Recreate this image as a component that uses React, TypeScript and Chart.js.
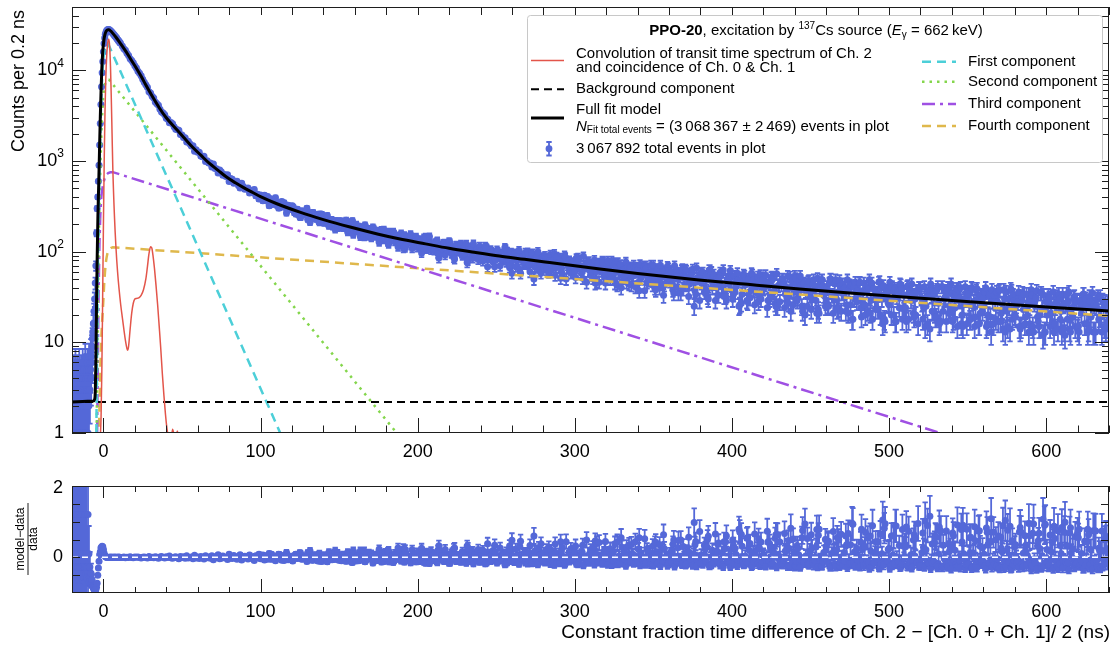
import React, { useEffect, useRef } from "react";
import { Chart, registerables } from "chart.js";

Chart.register(...registerables);

const FONT_FAMILY = '"Liberation Sans", Arial, Helvetica, sans-serif';

const BLUE = "#5468d8";
const RED = "#e3554a";
const CYAN = "#4ccfd8";
const GREEN = "#84d64c";
const PURPLE = "#9f50e3";
const YELLOW = "#dfb84c";
const AXIS = "#1e1e1e";

// ---------------- axes / tick labels ----------------
const X_RANGE = [-20, 640];
const Y_RANGE = [1, 50000];
const RES_RANGE = [-1, 2];
const X_MAJOR_TICKS = [0, 100, 200, 300, 400, 500, 600];
const X_MINOR_TICKS = [-20, 20, 40, 60, 80, 120, 140, 160, 180, 220, 240, 260, 280, 320, 340, 360, 380, 420, 440, 460, 480, 520, 540, 560, 580, 620, 640];
const Y_DECADE_TICKS = [1, 10, 100, 1000, 10000];
const RES_TICKS = [-0.5, 0, 0.5, 1, 1.5];
const RES_TICK_LABELS = [0, 2];

// ---------------- measured histogram (bin centres: start + step * i) ----------------
const BIN_START = [-19.8, -6.8, 12, 102, 101, 100.5];
const BIN_STEP = [0.2, 0.4, 1, 2, 2, 1];

const COUNTS_A = [
  2, 4, 1, 3, 5, 2, 1, 3, 4, 2,
  6, 1, 3, 2, 4, 1, 5, 3, 2, 1,
  4, 3, 6, 2, 1, 3, 4, 2, 5, 1,
  3, 2, 4, 6, 1, 3, 2, 5, 4, 1,
  3, 7, 2, 4, 1, 3, 5, 2, 6, 4,
  1, 3, 5, 2, 7, 4, 3, 6, 5, 8,
  4, 7, 9, 6, 11,
];
const COUNTS_B = [13, 16, 22, 30, 45, 70, 160, 300, 400, 600, 900, 1500, 2600, 4200, 6600, 9400, 12500, 16000, 19800, 22800, 25000, 26400, 27300, 27900, 28200, 28000, 28150, 27650, 27500, 26850, 26700, 26000, 25750, 25000, 24700, 23950, 23800, 23100, 22850, 22100, 21800, 21150, 20900, 20200, 20050];
const COUNTS_C = [18568, 17331, 16654, 15463, 14634, 13425, 12823, 12110, 11236, 10610, 9781, 9277, 8748, 7964, 7381, 6925, 6504, 5819, 5645, 5186, 4943, 4483, 4280, 4114, 3729, 3482, 3393, 3242, 2962, 2881, 2641, 2656, 2570, 2385, 2237, 2213, 2192, 1961, 1933, 1814, 1802, 1624, 1652, 1554, 1465, 1477, 1283, 1332, 1253, 1252, 1133, 1115, 1131, 990, 1008, 951, 952, 859, 930, 826, 821, 739, 796, 762, 696, 708, 677, 704, 594, 641, 631, 568, 580, 597, 538, 504, 570, 523, 487, 494, 503, 443, 474, 447, 485, 413, 429, 382, 421];
// tail, bins 102, 104, ... 638
const COUNTS_D_EVEN = [
  399, 363, 386, 346, 351, 305, 325, 327, 292, 321,
  282, 259, 281, 268, 228, 269, 238, 240, 261, 213,
  228, 215, 189, 219, 220, 188, 193, 173, 214, 187,
  171, 187, 145, 175, 160, 180, 147, 156, 135, 160,
  167, 137, 145, 127, 145, 110, 146, 129, 135, 111,
  134, 143, 111, 120, 112, 129, 96, 118, 109, 130,
  95, 110, 114, 96, 116, 80, 102, 95, 107, 86,
  101, 109, 90, 77, 97, 90, 81, 108, 81, 58,
  96, 82, 87, 73, 99, 84, 50, 86, 74, 87,
  63, 80, 87, 67, 74, 57, 87, 68, 76, 60,
  86, 63, 70, 76, 55, 72, 47, 66, 76, 58,
  55, 69, 76, 59, 47, 64, 68, 43, 59, 63,
  51, 69, 46, 59, 71, 51, 40, 60, 53, 62,
  44, 56, 35, 63, 52, 44, 57, 25, 52, 58,
  46, 37, 63, 49, 40, 52, 59, 32, 44, 53,
  36, 49, 27, 54, 28, 44, 49, 35, 55, 39,
  46, 30, 50, 25, 43, 50, 34, 27, 41, 54,
  31, 42, 45, 25, 37, 49, 21, 39, 42, 28,
  45, 33, 49, 24, 35, 40, 21, 42, 30, 37,
  24, 45, 37, 21, 39, 31, 47, 16, 34, 26,
  41, 17, 36, 39, 23, 42, 29, 19, 36, 40,
  24, 32, 14, 36, 19, 16, 41, 32, 21, 34,
  24, 38, 16, 30, 36, 18, 28, 39, 21, 31,
  15, 33, 29, 18, 37, 23, 13, 30, 37, 20,
  28, 15, 34, 24, 30, 13, 37, 20, 12, 28,
  31, 17, 25, 34, 13, 12, 28, 21, 32, 14,
  25, 34, 16, 28, 13, 25, 19, 29, 14,
];
// tail, bins 101, 103, ... 639
const COUNTS_D_ODD = [
  384, 410, 375, 330, 361, 335, 318, 346, 287, 307,
  306, 276, 242, 276, 265, 241, 269, 239, 217, 259,
  229, 204, 227, 202, 182, 217, 197, 188, 197, 155,
  200, 168, 176, 183, 147, 160, 169, 144, 175, 150,
  127, 152, 157, 135, 140, 109, 146, 138, 121, 146,
  123, 110, 146, 121, 110, 126, 95, 117, 125, 104,
  116, 86, 117, 106, 94, 121, 99, 85, 104, 100,
  84, 115, 88, 100, 68, 100, 89, 81, 101, 71,
  90, 96, 64, 86, 90, 72, 96, 76, 62, 83,
  90, 75, 63, 95, 75, 51, 79, 80, 65, 60,
  85, 71, 51, 72, 78, 59, 45, 74, 64, 52,
  79, 58, 68, 43, 72, 62, 46, 66, 54, 67,
  37, 60, 70, 48, 56, 40, 65, 58, 43, 69,
  50, 35, 59, 53, 39, 62, 44, 64, 34, 52,
  56, 39, 30, 60, 47, 41, 55, 32, 50, 62,
  34, 47, 26, 52, 50, 36, 56, 40, 28, 52,
  43, 29, 52, 37, 25, 47, 43, 31, 53, 26,
  44, 47, 22, 37, 48, 30, 41, 23, 49, 37,
  26, 50, 31, 23, 42, 39, 26, 43, 18, 36,
  45, 28, 20, 39, 45, 30, 23, 40, 18, 36,
  41, 20, 32, 44, 24, 17, 37, 33, 20, 40,
  27, 15, 37, 33, 21, 41, 17, 30, 37, 23,
  18, 39, 31, 15, 35, 26, 39, 19, 16, 32,
  36, 20, 13, 33, 28, 17, 38, 22, 14, 33,
  26, 15, 35, 19, 13, 33, 29, 17, 35, 13,
  29, 21, 13, 32, 18, 26, 34, 14, 19, 29,
  13, 26, 30, 14, 24, 13, 32, 19, 15, 27,
];
// tail, bins 100.5, 101.5, ... 639.5
const COUNTS_D_HALF = [
  400, 364, 418, 380, 406, 322, 362, 377, 343, 394,
  324, 303, 342, 357, 312, 311, 267, 325, 295, 306,
  315, 270, 261, 293, 281, 239, 281, 268, 255, 301,
  260, 211, 249, 270, 233, 228, 259, 210, 241, 247,
  207, 223, 251, 192, 226, 224, 202, 176, 220, 198,
  197, 218, 182, 194, 222, 164, 195, 180, 219, 171,
  182, 168, 190, 146, 175, 160, 197, 154, 179, 164,
  142, 186, 157, 147, 171, 127, 164, 154, 176, 137,
  147, 121, 155, 138, 167, 129, 151, 113, 143, 159,
  125, 152, 116, 137, 131, 156, 109, 142, 123, 134,
  137, 114, 97, 128, 133, 107, 123, 147, 104, 118,
  103, 118, 132, 85, 116, 108, 124, 92, 121, 111,
  126, 95, 109, 83, 118, 100, 105, 121, 91, 112,
  97, 76, 112, 106, 89, 122, 93, 102, 82, 115,
  103, 79, 92, 112, 68, 98, 105, 86, 94, 81,
  104, 91, 70, 96, 83, 111, 77, 89, 67, 98,
  80, 96, 68, 89, 103, 58, 86, 76, 98, 74,
  86, 60, 96, 77, 68, 88, 100, 75, 58, 84,
  67, 85, 76, 59, 93, 71, 81, 55, 88, 74,
  86, 61, 75, 91, 50, 71, 80, 58, 76, 66,
  52, 75, 81, 65, 59, 89, 69, 46, 77, 62,
  68, 51, 81, 60, 75, 46, 65, 79, 57, 45,
  72, 64, 50, 79, 55, 45, 68, 76, 60, 40,
  63, 51, 77, 57, 44, 67, 54, 71, 41, 61,
  46, 72, 54, 62, 37, 66, 50, 56, 71, 43,
  58, 38, 64, 50, 71, 44, 33, 61, 53, 66,
  47, 60, 38, 70, 54, 41, 57, 35, 65, 51,
  64, 43, 32, 53, 59, 46, 37, 66, 51, 29,
  45, 59, 36, 54, 32, 63, 48, 40, 56, 29,
  51, 33, 59, 41, 63, 37, 29, 48, 53, 38,
  30, 54, 41, 58, 25, 49, 34, 56, 43, 29,
  50, 31, 58, 38, 26, 46, 53, 34, 30, 49,
  40, 55, 24, 46, 32, 53, 36, 27, 57, 42,
  28, 43, 50, 24, 41, 54, 32, 22, 47, 36,
  51, 29, 36, 54, 25, 44, 20, 41, 47, 33,
  23, 44, 38, 29, 51, 21, 41, 49, 33, 25,
  41, 25, 50, 33, 21, 44, 30, 36, 48, 22,
  44, 31, 22, 49, 38, 26, 18, 41, 46, 28,
  33, 46, 19, 37, 26, 41, 22, 49, 29, 18,
  39, 23, 35, 46, 20, 30, 42, 17, 37, 27,
  46, 20, 30, 39, 17, 37, 24, 43, 18, 33,
  24, 41, 18, 34, 44, 21, 30, 37, 16, 40,
  31, 18, 41, 25, 16, 37, 44, 22, 34, 19,
  38, 27, 17, 41, 22, 31, 17, 40, 25, 44,
  17, 32, 36, 15, 29, 40, 20, 26, 41, 16,
  34, 18, 40, 25, 15, 37, 30, 16, 33, 22,
  25, 40, 16, 32, 19, 38, 16, 28, 36, 17,
  38, 21, 14, 30, 36, 15, 25, 39, 18, 29,
  19, 30, 36, 14, 32, 23, 16, 34, 26, 16,
  38, 15, 27, 31, 19, 15, 35, 24, 33, 13,
  20, 33, 15, 26, 36, 16, 28, 14, 30, 22,
  34, 14, 27, 18, 36, 13, 24, 31, 15, 28,
  15, 29, 21, 34, 16, 25, 13, 32, 19, 35,
  26, 13, 30, 18, 32, 13, 24, 28, 15, 21,
];

// ---------------- residuals (model - data) / data ----------------
const RESID_A = [
  0.1, -0.45, 1.2, -0.27, -0.56, 0.1, 1.2, -0.27, -0.45, 0.1,
  -0.63, 1.2, -0.27, 0.1, -0.45, 1.2, -0.56, -0.27, 0.1, 1.2,
  -0.45, -0.27, -0.63, 0.1, 1.2, -0.27, -0.45, 0.1, -0.56, 1.2,
  -0.27, 0.1, -0.45, -0.63, 1.2, -0.27, 0.1, -0.56, -0.45, 1.2,
  -0.27, -0.69, 0.1, -0.45, 1.2, -0.27, -0.56, 0.1, -0.63, -0.45,
  1.2, -0.27, -0.56, 0.1, -0.69, -0.45, -0.27, -0.63, -0.56, -0.72,
  -0.45, -0.69, -0.76, -0.63, -0.8,
];
const RESID_B = [-0.83, -0.86, -0.9, -0.92, -0.94, -0.91, -0.84, -0.73, -0.5, -0.3, -0.11, 0.07, 0.15, 0.26, 0.29, 0.31, 0.3, 0.22, 0.12, 0.06, 0.03, 0.01, 0.004, -0.004, -0.005, 0.004, -0.002, 0.005, -0.004, 0.006, -0.004, 0.004, -0.006, 0.004, -0.004, 0.006, -0.004, 0.004, -0.007, 0.005, -0.005, 0.007, -0.005, 0.005, -0.007];
const RESID_C = [
  -0.004, 0.007, -0.009, 0.002, -0.006, 0.013, -0.002, -0.009, 0.006, -0.001,
  0.012, -0.008, -0.017, 0.005, 0.009, -0.004, -0.016, 0.023, -0.008, 0.003,
  -0.013, 0.015, 0, -0.028, 0.008, 0.022, -0.007, -0.019, 0.013, -0.004,
  0.037, -0.014, -0.027, 0.002, 0.019, -0.01, -0.042, 0.025, -0.007, 0.014,
  -0.023, 0.041, -0.019, -0.003, 0.01, -0.039, 0.06, -0.017, 0.006, -0.034,
  0.024, 0, -0.05, 0.045, -0.013, 0.009, -0.028, 0.042, -0.07, 0.017,
  -0.007, 0.069, -0.038, -0.025, 0.034, -0.011, 0.004, -0.058, 0.086, -0.02,
  -0.032, 0.048, 0, -0.052, 0.026, 0.069, -0.077, -0.017, 0.033, -0.004,
  -0.044, 0.063, -0.027, 0.009, -0.091, 0.046, -0.014, 0.084, -0.038,
];
const RESID_D_EVEN = [
  -0.02, 0.041, -0.054, 0.017, -0.031, 0.082, -0.012, -0.049, 0.034, -0.084,
  0.011, 0.069, -0.039, -0.019, 0.127, -0.071, 0.025, -0.008, -0.111, 0.061,
  -0.031, 0.005, 0.116, -0.055, -0.082, 0.053, 0, 0.092, -0.136, -0.027,
  0.041, -0.07, 0.179, -0.046, 0.025, -0.106, 0.068, -0.013, 0.119, -0.069,
  -0.126, 0.051, -0.028, 0.094, -0.055, 0.227, -0.089, 0.016, -0.044, 0.144,
  -0.067, -0.14, 0.09, -0.008, 0.045, -0.109, 0.188, -0.051, 0.009, -0.162,
  0.133, -0.035, -0.08, 0.079, -0.118, 0.263, -0.023, 0.037, -0.091, 0.119,
  -0.059, -0.139, 0.031, 0.191, -0.066, -0.006, 0.094, -0.188, 0.072, 0.481,
  -0.115, 0.027, -0.043, 0.13, -0.175, -0.038, 0.6, -0.079, 0.059, -0.108,
  0.219, -0.05, -0.136, 0.112, -0.004, 0.279, -0.17, 0.051, -0.07, 0.167,
  -0.194, 0.089, -0.03, -0.116, 0.209, -0.086, 0.387, -0.023, -0.159, 0.091,
  0.14, -0.1, -0.191, 0.032, 0.283, -0.066, -0.129, 0.363, -0.015, -0.087,
  0.118, -0.181, 0.217, -0.058, -0.224, 0.071, 0.355, -0.105, 0.006, -0.148,
  0.191, -0.073, 0.471, -0.189, -0.027, 0.141, -0.126, 0.976, -0.058, -0.16,
  0.05, 0.297, -0.244, -0.035, 0.173, -0.104, -0.217, 0.434, 0.036, -0.147,
  0.247, -0.09, 0.641, -0.187, 0.557, -0.016, -0.122, 0.22, -0.229, 0.079,
  -0.091, 0.383, -0.176, 0.636, -0.056, -0.194, 0.176, 0.47, -0.037, -0.274,
  0.255, -0.079, -0.147, 0.528, 0.024, -0.231, 0.781, -0.046, -0.121, 0.311,
  -0.189, 0.097, -0.265, 0.488, 0.014, -0.118, 0.671, -0.171, 0.153, -0.07,
  0.425, -0.244, -0.086, 0.6, -0.144, 0.071, -0.298, 1.05, -0.041, 0.246,
  -0.215, 0.882, -0.114, -0.187, 0.37, -0.255, 0.072, 0.626, -0.144, -0.235,
  0.267, -0.056, 1.15, -0.169, 0.563, 0.85, -0.283, -0.084, 0.386, -0.147,
  0.2, -0.245, 0.781, -0.053, -0.217, 0.561, -0.004, -0.287, 0.314, -0.113,
  0.82, -0.176, -0.069, 0.494, -0.278, 0.157, 1.03, -0.123, -0.295, 0.3,
  -0.079, 0.713, -0.247, 0.058, -0.157, 0.938, -0.324, 0.245, 1.067, -0.121,
  -0.21, 0.435, -0.032, -0.291, 0.838, 0.983, -0.154, 0.124, -0.266, 0.664,
  -0.072, -0.321, 0.438, -0.186, 0.746, -0.096, 0.184, -0.228, 0.593,
];
const RESID_D_ODD = [
  0.036, -0.062, -0.009, 0.086, -0.042, 0, 0.024, -0.087, 0.068, -0.029,
  -0.054, 0.018, 0.13, -0.034, -0.019, 0.052, -0.082, 0.008, 0.083, -0.116,
  -0.024, 0.071, -0.059, 0.035, 0.124, -0.078, -0.008, 0.016, -0.051, 0.184,
  -0.1, 0.048, -0.02, -0.077, 0.126, 0.016, -0.059, 0.08, -0.129, 0,
  0.161, -0.046, -0.092, 0.037, -0.014, 0.248, -0.082, -0.043, 0.074, -0.123,
  0.024, 0.127, -0.164, -0.008, 0.073, -0.079, 0.205, -0.034, -0.112, 0.053,
  -0.066, 0.243, -0.098, -0.017, 0.096, -0.16, 0.013, 0.166, -0.059, -0.033,
  0.138, -0.179, 0.06, -0.078, 0.34, -0.1, 0, 0.088, -0.137, 0.215,
  -0.051, -0.119, 0.308, -0.036, -0.088, 0.128, -0.163, 0.047, 0.271, -0.06,
  -0.142, 0.019, 0.2, -0.212, -0.012, 0.437, -0.081, -0.101, 0.094, 0.173,
  -0.18, -0.028, 0.339, -0.061, -0.142, 0.122, 0.456, -0.123, 0.003, 0.223,
  -0.203, 0.076, -0.091, 0.423, -0.158, -0.032, 0.293, -0.108, 0.08, -0.137,
  0.546, -0.055, -0.197, 0.163, -0.013, 0.37, -0.163, -0.071, 0.244, -0.232,
  0.052, 0.489, -0.124, -0.032, 0.303, -0.187, 0.136, -0.225, 0.447, -0.061,
  -0.134, 0.235, 0.593, -0.209, 0.002, 0.14, -0.156, 0.439, -0.085, -0.268,
  0.325, -0.048, 0.71, -0.152, -0.125, 0.207, -0.229, 0.071, 0.52, -0.188,
  -0.024, 0.436, -0.205, 0.109, 0.63, -0.139, -0.066, 0.285, -0.253, 0.513,
  -0.112, -0.174, 0.752, 0.035, -0.207, 0.26, -0.084, 0.622, -0.244, -0.005,
  0.408, -0.273, 0.165, 0.559, -0.152, -0.092, 0.354, -0.187, 0.928, -0.042,
  -0.238, 0.218, 0.695, -0.136, -0.256, 0.11, 0.439, -0.178, 0.817, -0.097,
  -0.212, 0.605, -0.002, -0.277, 0.317, 0.847, -0.157, -0.061, 0.543, -0.233,
  0.13, 1.02, -0.185, -0.091, 0.419, -0.277, 0.735, -0.022, -0.211, 0.263,
  0.606, -0.263, -0.077, 0.897, -0.191, 0.083, -0.282, 0.466, 0.731, -0.139,
  -0.239, 0.363, 1.085, -0.183, -0.043, 0.568, -0.303, 0.198, 0.871, -0.211,
  -0.004, 0.717, -0.267, 0.342, 0.95, -0.235, -0.134, 0.468, -0.29, 0.9,
  -0.153, 0.164, 0.869, -0.245, 0.333, -0.083, -0.301, 0.689, 0.239, -0.193,
  0.788, -0.11, -0.232, 0.636, -0.052, 0.742, -0.295, 0.182, 0.49, -0.176,
];
const RESID_D_HALF = [
  -0.03, 0.066, -0.072, 0.021, -0.044, 0.106, -0.017, -0.056, 0.038, -0.096,
  0.012, 0.083, -0.041, -0.081, 0.051, -0.023, 0.139, -0.065, 0.031, -0.007,
  -0.102, 0.048, 0.084, -0.034, 0.007, 0.109, -0.057, -0.011, 0.039, -0.12,
  -0.042, 0.18, 0, -0.078, 0.069, 0.022, -0.1, 0.11, -0.033, -0.057,
  0.063, -0.013, -0.124, 0.146, -0.027, -0.071, 0.03, 0.182, -0.055, 0.051,
  0, -0.096, 0.082, 0.015, -0.113, 0.14, -0.041, 0.039, -0.146, 0.094,
  -0.055, 0.024, -0.095, 0.178, -0.017, 0.075, -0.127, 0.117, -0.039, 0.049,
  0.099, -0.161, -0.006, 0.061, -0.088, 0.228, -0.049, 0.013, -0.114, 0.139,
  -0.027, 0.182, -0.077, 0.036, -0.144, 0.109, -0.053, 0.265, 0, -0.101,
  0.056, -0.132, 0.138, -0.036, 0.008, -0.154, 0.211, -0.07, 0.073, -0.015,
  -0.113, 0.066, 0.253, -0.051, -0.086, 0.136, -0.012, -0.173, 0.168, 0.03,
  0.092, -0.047, -0.148, 0.324, -0.03, 0.042, -0.093, 0.223, -0.07, 0.014,
  -0.167, 0.105, -0.037, 0.265, -0.11, 0.05, 0, -0.132, 0.154, -0.063,
  0.031, 0.316, -0.107, -0.057, 0.124, -0.18, 0.075, -0.02, 0.22, -0.13,
  -0.087, 0.19, 0.022, -0.161, 0.382, -0.041, -0.105, 0.093, 0, 0.16,
  -0.149, -0.027, 0.264, -0.078, 0.066, -0.203, 0.149, -0.006, 0.321, -0.097,
  0.05, -0.125, 0.235, -0.056, -0.184, 0.448, -0.023, 0.105, -0.143, 0.135,
  -0.07, 0.333, -0.167, 0.039, 0.176, -0.091, -0.2, 0.067, 0.379, -0.048,
  0.127, -0.112, -0.007, 0.28, -0.188, 0.063, -0.068, 0.373, -0.142, 0.02,
  -0.163, 0.18, -0.04, -0.209, 0.44, 0.014, -0.1, 0.241, -0.053, 0.091,
  0.317, -0.087, -0.154, 0.054, 0.161, -0.23, -0.007, 0.489, -0.11, 0.105,
  -0.044, 0.275, -0.198, 0.083, -0.133, 0.413, 0, -0.177, 0.14, 0.444,
  -0.139, -0.031, 0.24, -0.215, 0.127, 0.378, -0.088, -0.184, 0.033, 0.55,
  -0.063, 0.157, -0.234, 0.035, 0.341, -0.119, 0.093, -0.169, 0.439, -0.033,
  0.224, -0.218, 0.043, -0.092, 0.522, -0.147, 0.126, 0.005, -0.207, 0.309,
  -0.069, 0.421, -0.156, 0.08, -0.239, 0.227, 0.636, -0.115, 0.019, -0.182,
  0.106, -0.133, 0.368, -0.257, -0.037, 0.268, -0.088, 0.486, -0.2, 0.02,
  -0.219, 0.163, 0.563, -0.057, -0.153, 0.087, 0.351, -0.242, -0.02, 0.724,
  0.067, -0.186, 0.333, -0.111, 0.5, -0.238, 0, 0.2, -0.143, 0.655,
  -0.092, 0.403, -0.215, 0.129, -0.265, 0.251, 0.597, -0.035, -0.126, 0.218,
  0.487, -0.174, 0.088, -0.231, 0.784, -0.09, 0.312, -0.204, 0.037, 0.538,
  -0.14, 0.387, -0.259, 0.132, 0.654, -0.065, -0.189, 0.265, 0.433, -0.122,
  0.038, -0.245, 0.729, -0.098, 0.297, -0.217, 0.153, 0.537, -0.272, -0.012,
  0.429, -0.07, -0.2, 0.667, -0.024, -0.259, 0.25, 0.818, -0.149, 0.111,
  -0.241, 0.334, 0.075, -0.283, 0.548, -0.12, 0.935, -0.056, -0.177, 0.173,
  0.63, -0.148, -0.013, 0.293, -0.265, 0.786, -0.085, -0.235, 0.136, 0.5,
  -0.117, 0.448, -0.276, 0.097, 0.724, -0.177, 0.207, 0.006, -0.246, 0.645,
  -0.2, 0.135, 0.6, -0.282, -0.074, 0.354, 0.956, -0.141, -0.235, 0.257,
  0.03, -0.261, 0.789, -0.081, 0.308, -0.171, 0.545, -0.306, 0.172, 0.889,
  -0.154, 0.435, -0.057, -0.283, 0.65, 0.1, -0.214, 0.941, -0.108, 0.222,
  -0.304, 0.6, 0.067, -0.179, 0.882, -0.135, 0.333, -0.256, 0.778, -0.03,
  0.3, -0.239, 0.733, -0.082, -0.291, 0.486, 0.04, -0.157, 0.95, -0.22,
  -0.023, 0.683, -0.261, 0.212, 0.894, -0.181, -0.311, 0.377, -0.109, 0.595,
  -0.224, 0.093, 0.735, -0.28, 0.341, -0.048, 0.735, -0.263, 0.18, -0.33,
  0.682, -0.106, -0.206, 0.907, -0.014, -0.285, 0.43, 0.1, -0.302, 0.788,
  -0.179, 0.55, -0.303, 0.116, 0.86, -0.246, -0.07, 0.744, -0.155, 0.268,
  0.088, -0.32, 0.7, -0.15, 0.432, -0.284, 0.7, -0.029, -0.244, 0.6,
  -0.305, 0.257, 0.886, -0.12, -0.267, 0.76, 0.056, -0.323, 0.467, -0.09,
  0.353, -0.143, -0.286, 0.836, -0.197, 0.117, 0.606, -0.244, -0.012, 0.606,
  -0.339, 0.673, -0.07, -0.19, 0.321, 0.673, -0.283, 0.046, -0.239, 0.931,
  0.22, -0.261, 0.627, -0.062, -0.322, 0.525, -0.129, 0.743, -0.187, 0.109,
  -0.3, 0.7, -0.119, 0.322, -0.339, 0.831, -0.008, -0.232, 0.587, -0.15,
  0.547, -0.2, 0.105, -0.318, 0.45, -0.072, 0.785, -0.275, 0.221, -0.337,
  -0.131, 0.738, -0.247, 0.256, -0.294, 0.738, -0.058, -0.193, 0.507, 0.076,
];

// ---------------- fit curves ----------------
const MODEL_T = [-20, -6.5, -5.6, -5.2, -4.8, -4.4, -4, -3.5, -3, -2.5, -2, -1.5, -1, -0.5, 0, 0.5, 1, 1.5, 2, 2.5, 3, 3.5, 4, 5, 6, 8, 10, 12, 14.4, 17, 20.8, 24, 27.2, 31, 35.6, 40, 46.3, 52, 56.8, 62, 67.5, 73, 78.1, 84, 88.7, 95, 100, 110, 125, 140, 157, 175, 188, 205, 220, 236, 252, 268, 284, 300, 316, 340, 379, 410, 443, 475, 507, 540, 570, 605, 640];
const MODEL_Y = [2.2, 2.25, 2.35, 2.8, 6, 25, 80, 250, 550, 1300, 3000, 6000, 10500, 15500, 19500, 22800, 25000, 26500, 27400, 27900, 28100, 28100, 27800, 26800, 25600, 23200, 20800, 18500, 16100, 13600, 10700, 8600, 6800, 5200, 3850, 3000, 2250, 1750, 1420, 1160, 940, 790, 670, 575, 515, 450, 405, 340, 273, 226, 187, 156, 139, 122, 109, 98.5, 89.5, 82.5, 76, 70, 64.5, 57.5, 48.8, 43.6, 38.8, 35, 31.8, 29, 26.7, 24.3, 22.2];
const BG_T = [-20, 640];
const BG_Y = [2.2, 2.2];
const C1_T = [-4.5, -4, -3.5, -3, -2.5, -2, -1.5, -1, -0.5, 0, 0.5, 1, 1.5, 2, 2.5, 3, 115];
const C1_Y = [1, 10, 80, 300, 800, 2000, 4000, 7100, 10400, 13400, 15800, 17400, 18500, 19200, 19600, 19700, 0.8];
const C2_T = [-4.5, -4, -3.5, -3, -2.5, -2, -1.5, -1, -0.5, 0, 0.5, 1, 1.5, 2, 2.5, 3, 3.5, 190];
const C2_Y = [0.5, 4, 30, 120, 320, 800, 1600, 2850, 4200, 5400, 6400, 7000, 7450, 7700, 7850, 7900, 7900, 0.85];
const C3_T = [-4, -3.5, -3, -2.5, -2, -1.5, -1, 0, 1, 2, 3, 4.5, 6, 540];
const C3_Y = [1, 8, 40, 130, 250, 370, 460, 580, 660, 710, 735, 750, 754, 0.91];
const C4_T = [-3, -2.5, -2, -1.5, -1, -0.5, 0, 0.5, 1, 1.5, 2, 2.5, 3, 4, 5, 6, 640];
const C4_Y = [0.8, 2, 5, 10, 15, 21, 30, 45, 60, 75, 86, 95, 101, 107, 110.5, 112, 19.6];
const IRF_T = [-3, -2, -1.5, -1, -0.5, 0, 0.5, 1, 1.5, 2, 2.5, 3, 3.5, 4, 4.5, 5, 5.5, 6, 7, 8, 9, 10, 11, 12, 13, 14, 15, 15.5, 16, 17, 18, 19, 20, 21, 22.5, 24, 25.5, 27, 28, 29, 30, 30.8, 31.5, 32.5, 33.5, 34.5, 35.5, 36.5, 37.5, 38.5, 39.5, 40.5, 41.5, 43, 44, 45, 46, 47, 48, 50, 55];
const IRF_Y = [0.5, 0.9, 1.5, 5, 30, 200, 1000, 3500, 8000, 13500, 18500, 21500, 22000, 18000, 11000, 5000, 2000, 800, 250, 110, 60, 38, 26, 19, 14, 10.5, 8.5, 8.2, 9, 14, 21, 27, 30, 30.5, 31, 33, 38, 50, 68, 95, 113, 110, 92, 65, 42, 26, 15, 8.5, 4.5, 2.6, 1.6, 1.1, 0.9, 0.8, 1.1, 0.95, 0.85, 1.05, 0.9, 0.8, 0.7];
const ZERO_X = [-20, 640];
const ZERO_Y = [0, 0];

// ---------------- build points ----------------
const COUNT_SETS = [COUNTS_A, COUNTS_B, COUNTS_C, COUNTS_D_EVEN, COUNTS_D_ODD, COUNTS_D_HALF];
const RESID_SETS = [RESID_A, RESID_B, RESID_C, RESID_D_EVEN, RESID_D_ODD, RESID_D_HALF];

function buildPoints() {
  const data: any[] = [];
  const resid: any[] = [];
  BIN_START.forEach((s, k) => {
    COUNT_SETS[k].forEach((n, i) => {
      const t = +(s + BIN_STEP[k] * i).toFixed(2);
      const e = Math.sqrt(n);
      data.push({ x: t, y: n, yMin: n - e, yMax: n + e });
      const r = RESID_SETS[k][i];
      const re = (1 + r) / Math.sqrt(n);
      resid.push({ x: t, y: r, yMin: r - re, yMax: r + re });
    });
  });
  data.sort((p, q) => p.x - q.x);
  resid.sort((p, q) => p.x - q.x);
  return { data, resid };
}

const font = (size: number, italic = false, bold = false) =>
  `${italic ? "italic " : ""}${bold ? "bold " : ""}${size}px ${FONT_FAMILY}`;

type Seg = { t: string; size?: number; italic?: boolean; bold?: boolean; dy?: number };
function drawRich(ctx: any, segs: Seg[], x: number, y: number, align: string, base = 15) {
  ctx.textBaseline = "middle";
  ctx.textAlign = "left";
  let w = 0;
  for (const s of segs) {
    ctx.font = font(s.size ?? base, s.italic, s.bold);
    w += ctx.measureText(s.t).width;
  }
  let cx = align === "center" ? x - w / 2 : x;
  for (const s of segs) {
    ctx.font = font(s.size ?? base, s.italic, s.bold);
    ctx.fillText(s.t, cx, y + (s.dy ?? 0));
    cx += ctx.measureText(s.t).width;
  }
}

function lineDs(label: string, xs: number[], ys: number[], color: string, width: number, dash: number[], order: number, smooth: boolean) {
  return {
    type: "line",
    label,
    data: xs.map((x, i) => ({ x, y: ys[i] })),
    borderColor: color,
    borderWidth: width,
    borderDash: dash,
    borderCapStyle: "butt",
    pointRadius: 0,
    pointHoverRadius: 0,
    fill: false,
    tension: 0,
    cubicInterpolationMode: smooth ? "monotone" : "default",
    order,
  };
}

const errorBarPlugin = {
  id: "errorBars",
  beforeDatasetsDraw(chart: any) {
    const { ctx, chartArea: a } = chart;
    const x = chart.scales.x;
    const y = chart.scales.y;
    const isLog = y.type === "logarithmic";
    chart.data.datasets.forEach((ds: any) => {
      if (!ds.errorBars) return;
      ctx.save();
      ctx.beginPath();
      ctx.rect(a.left, a.top, a.right - a.left, a.bottom - a.top);
      ctx.clip();
      ctx.strokeStyle = ds.pointBackgroundColor;
      ctx.lineWidth = 1.8;
      ctx.beginPath();
      const cap = 2.7;
      for (const p of ds.data) {
        const px = x.getPixelForValue(p.x);
        const lo = isLog ? Math.max(p.yMin, 0.001) : p.yMin;
        const pt = y.getPixelForValue(p.yMax);
        const pb = y.getPixelForValue(lo);
        ctx.moveTo(px, pt);
        ctx.lineTo(px, pb);
        ctx.moveTo(px - cap, pt);
        ctx.lineTo(px + cap, pt);
        ctx.moveTo(px - cap, pb);
        ctx.lineTo(px + cap, pb);
      }
      ctx.stroke();
      ctx.restore();
    });
  },
};

function drawFrame(ctx: any, a: any) {
  ctx.strokeRect(a.left + 0.5, a.top + 0.5, a.right - a.left - 1, a.bottom - a.top - 1);
}

const mainAxesPlugin = {
  id: "mainAxes",
  afterDatasetsDraw(chart: any) {
    const { ctx, chartArea: a } = chart;
    const x = chart.scales.x;
    const y = chart.scales.y;
    ctx.save();
    ctx.strokeStyle = AXIS;
    ctx.lineWidth = 1;
    ctx.setLineDash([]);
    ctx.beginPath();
    const xp = (v: number) => Math.round(x.getPixelForValue(v)) + 0.5;
    for (const v of X_MAJOR_TICKS) {
      const px = xp(v);
      ctx.moveTo(px, a.bottom); ctx.lineTo(px, a.bottom - 15);
      ctx.moveTo(px, a.top); ctx.lineTo(px, a.top + 8);
    }
    for (const v of X_MINOR_TICKS) {
      const px = xp(v);
      ctx.moveTo(px, a.bottom); ctx.lineTo(px, a.bottom - 7.5);
      ctx.moveTo(px, a.top); ctx.lineTo(px, a.top + 8);
    }
    for (const d of Y_DECADE_TICKS) {
      for (let m = 1; m < 10; m++) {
        const v = d * m;
        if (v > Y_RANGE[1]) break;
        const py = Math.round(y.getPixelForValue(v)) + 0.5;
        const len = m === 1 ? 14 : 7;
        ctx.moveTo(a.left, py); ctx.lineTo(a.left + len, py);
        ctx.moveTo(a.right, py); ctx.lineTo(a.right - len, py);
      }
    }
    ctx.stroke();
    drawFrame(ctx, a);

    ctx.fillStyle = "#000";
    ctx.font = font(18);
    ctx.textAlign = "center";
    ctx.textBaseline = "middle";
    for (const v of X_MAJOR_TICKS) ctx.fillText(String(v), x.getPixelForValue(v), a.bottom + 19);

    for (const d of Y_DECADE_TICKS) {
      const py = y.getPixelForValue(d);
      const e = Math.round(Math.log10(d));
      ctx.textBaseline = "middle";
      if (e <= 1) {
        ctx.textAlign = "right";
        ctx.font = font(18);
        ctx.fillText(String(d), 64, py);
      } else {
        ctx.textAlign = "left";
        ctx.font = font(12);
        const ws = ctx.measureText(String(e)).width;
        ctx.font = font(18);
        const wb = ctx.measureText("10").width;
        ctx.fillText("10", 64 - ws - wb, py);
        ctx.font = font(12);
        ctx.fillText(String(e), 64 - ws, py - 7);
      }
    }

    ctx.save();
    ctx.translate(19, 10);
    ctx.rotate(-Math.PI / 2);
    ctx.font = font(18);
    ctx.textAlign = "right";
    ctx.textBaseline = "middle";
    ctx.fillText("Counts per 0.2 ns", 0, 0);
    ctx.restore();
    ctx.restore();
  },
};

function legendLine(ctx: any, x0: number, x1: number, y: number, color: string, w: number, dash: number[]) {
  ctx.save();
  ctx.strokeStyle = color;
  ctx.lineWidth = w;
  ctx.setLineDash(dash);
  ctx.beginPath();
  ctx.moveTo(x0, y);
  ctx.lineTo(x1, y);
  ctx.stroke();
  ctx.restore();
}

const legendPlugin = {
  id: "fitLegend",
  afterDraw(chart: any) {
    const ctx = chart.ctx;
    ctx.save();
    const bx = 527, by = 15, bw = 575, bh = 147;
    ctx.fillStyle = "#fff";
    ctx.strokeStyle = "#c8c8c8";
    ctx.lineWidth = 1;
    ctx.beginPath();
    if (ctx.roundRect) ctx.roundRect(bx + 0.5, by + 0.5, bw, bh, 3);
    else ctx.rect(bx + 0.5, by + 0.5, bw, bh);
    ctx.fill();
    ctx.stroke();

    ctx.fillStyle = "#000";
    drawRich(ctx, [
      { t: "PPO-20", bold: true },
      { t: ", excitation by " },
      { t: "137", size: 10, dy: -5 },
      { t: "Cs source (" },
      { t: "E", italic: true },
      { t: "\u03b3", size: 10, dy: 4 },
      { t: " = 662\u2009keV)" },
    ], 816, 31, "center");

    const lx0 = 531, lx1 = 564, tx = 576;
    legendLine(ctx, lx0, lx1, 60.5, RED, 1.5, []);
    drawRich(ctx, [{ t: "Convolution of transit time spectrum of Ch. 2" }], tx, 53.5, "left");
    drawRich(ctx, [{ t: "and coincidence of Ch. 0 & Ch. 1" }], tx, 67.5, "left");
    legendLine(ctx, lx0, lx1, 89.3, "#000", 2, [8, 5]);
    drawRich(ctx, [{ t: "Background component" }], tx, 89.3, "left");
    legendLine(ctx, lx0, lx1, 118, "#000", 3, []);
    drawRich(ctx, [{ t: "Full fit model" }], tx, 110, "left");
    drawRich(ctx, [
      { t: "N", italic: true },
      { t: "Fit total events", size: 10, dy: 4 },
      { t: " = (3\u2009068\u2009367 \u00b1 2\u2009469) events in plot" },
    ], tx, 126.7, "left");
    ctx.save();
    ctx.strokeStyle = BLUE;
    ctx.fillStyle = BLUE;
    ctx.lineWidth = 1.8;
    ctx.beginPath();
    ctx.moveTo(549, 142); ctx.lineTo(549, 155.5);
    ctx.moveTo(546.3, 142); ctx.lineTo(551.7, 142);
    ctx.moveTo(546.3, 155.5); ctx.lineTo(551.7, 155.5);
    ctx.stroke();
    ctx.beginPath();
    ctx.arc(549, 148.7, 3.4, 0, Math.PI * 2);
    ctx.fill();
    ctx.restore();
    drawRich(ctx, [{ t: "3\u2009067\u2009892 total events in plot" }], tx, 148.7, "left");

    const rx0 = 922, rx1 = 956, rtx = 968;
    legendLine(ctx, rx0, rx1, 61.7, CYAN, 2.5, [9, 6]);
    drawRich(ctx, [{ t: "First component" }], rtx, 61.7, "left");
    legendLine(ctx, rx0, rx1, 81.7, GREEN, 2.5, [2.5, 5]);
    drawRich(ctx, [{ t: "Second component" }], rtx, 81.7, "left");
    legendLine(ctx, rx0, rx1, 104, PURPLE, 2.5, [13, 5, 3, 5]);
    drawRich(ctx, [{ t: "Third component" }], rtx, 104, "left");
    legendLine(ctx, rx0, rx1, 126, YELLOW, 2.5, [9, 6]);
    drawRich(ctx, [{ t: "Fourth component" }], rtx, 126, "left");
    ctx.restore();
  },
};

const resAxesPlugin = {
  id: "resAxes",
  afterDatasetsDraw(chart: any) {
    const { ctx, chartArea: a } = chart;
    const x = chart.scales.x;
    const y = chart.scales.y;
    ctx.save();
    ctx.strokeStyle = AXIS;
    ctx.lineWidth = 1;
    ctx.setLineDash([]);
    ctx.beginPath();
    const xp = (v: number) => Math.round(x.getPixelForValue(v)) + 0.5;
    for (const v of X_MAJOR_TICKS) {
      const px = xp(v);
      ctx.moveTo(px, a.bottom); ctx.lineTo(px, a.bottom - 14);
      ctx.moveTo(px, a.top); ctx.lineTo(px, a.top + 12);
    }
    for (const v of X_MINOR_TICKS) {
      const px = xp(v);
      ctx.moveTo(px, a.bottom); ctx.lineTo(px, a.bottom - 6);
      ctx.moveTo(px, a.top); ctx.lineTo(px, a.top + 6);
    }
    for (const v of RES_TICKS) {
      const py = Math.round(y.getPixelForValue(v)) + 0.5;
      ctx.moveTo(a.left, py); ctx.lineTo(a.left + 8, py);
      ctx.moveTo(a.right, py); ctx.lineTo(a.right - 8, py);
    }
    ctx.stroke();
    drawFrame(ctx, a);

    ctx.fillStyle = "#000";
    ctx.font = font(18);
    ctx.textAlign = "center";
    ctx.textBaseline = "middle";
    for (const v of X_MAJOR_TICKS) ctx.fillText(String(v), x.getPixelForValue(v), a.bottom + 19);
    ctx.textAlign = "right";
    for (const v of RES_TICK_LABELS) ctx.fillText(String(v), 63, y.getPixelForValue(v) + (v === RES_RANGE[1] ? 2 : 0));

    ctx.font = font(19);
    ctx.textAlign = "right";
    ctx.fillText("Constant fraction time difference of Ch. 2 \u2212 [Ch. 0 + Ch. 1]/ 2 (ns)", 1110, a.bottom + 40);

    ctx.save();
    ctx.translate(28, 69);
    ctx.rotate(-Math.PI / 2);
    ctx.font = font(12);
    ctx.textAlign = "center";
    ctx.textBaseline = "middle";
    ctx.fillText("model\u2212data", 0, -7);
    ctx.fillText("data", 0, 6);
    ctx.lineWidth = 1;
    ctx.beginPath();
    ctx.moveTo(-36, 0);
    ctx.lineTo(36, 0);
    ctx.stroke();
    ctx.restore();
    ctx.restore();
  },
};

export default function App() {
  const mainRef = useRef<HTMLCanvasElement>(null);
  const resRef = useRef<HTMLCanvasElement>(null);

  useEffect(() => {
    const { data, resid } = buildPoints();
    const common = {
      responsive: false,
      animation: false,
      devicePixelRatio: 1,
      events: [],
    };
    const main = new Chart(mainRef.current as any, {
      type: "line",
      data: {
        datasets: [
          {
            type: "scatter",
            label: "3 067 892 total events in plot",
            data,
            errorBars: true,
            pointRadius: 3.5,
            pointHoverRadius: 3.5,
            pointBackgroundColor: BLUE,
            pointBorderColor: BLUE,
            pointBorderWidth: 0,
            showLine: false,
            order: 9,
          },
          lineDs("Fourth component", C4_T, C4_Y, YELLOW, 2.5, [9, 6], 8, false),
          lineDs("Third component", C3_T, C3_Y, PURPLE, 2.5, [13, 5, 3, 5], 7, false),
          lineDs("Second component", C2_T, C2_Y, GREEN, 2.5, [2.5, 5], 6, false),
          lineDs("First component", C1_T, C1_Y, CYAN, 2.5, [9, 6], 5, false),
          lineDs("Background component", BG_T, BG_Y, "#000", 2, [8, 5], 4, false),
          lineDs("Convolution of transit time spectrum", IRF_T, IRF_Y, RED, 1.5, [], 2, true),
          lineDs("Full fit model", MODEL_T, MODEL_Y, "#000", 3, [], 1, true),
        ] as any,
      },
      options: {
        ...common,
        layout: { padding: { left: 72, top: 7, right: 4, bottom: 37 } },
        scales: {
          x: { type: "linear", min: X_RANGE[0], max: X_RANGE[1], display: false },
          y: { type: "logarithmic", min: Y_RANGE[0], max: Y_RANGE[1], display: false },
        },
        plugins: { legend: { display: false }, tooltip: { enabled: false } },
      } as any,
      plugins: [errorBarPlugin, mainAxesPlugin, legendPlugin],
    });

    const res = new Chart(resRef.current as any, {
      type: "line",
      data: {
        datasets: [
          {
            type: "scatter",
            label: "(model - data) / data",
            data: resid,
            errorBars: true,
            pointRadius: 3.5,
            pointHoverRadius: 3.5,
            pointBackgroundColor: BLUE,
            pointBorderColor: BLUE,
            pointBorderWidth: 0,
            showLine: false,
            order: 2,
          },
          lineDs("zero", ZERO_X, ZERO_Y, "#ffffff", 1.5, [6, 4], 1, false),
        ] as any,
      },
      options: {
        ...common,
        layout: { padding: { left: 72, top: 16, right: 4, bottom: 56 } },
        scales: {
          x: { type: "linear", min: X_RANGE[0], max: X_RANGE[1], display: false },
          y: { type: "linear", min: RES_RANGE[0], max: RES_RANGE[1], display: false },
        },
        plugins: { legend: { display: false }, tooltip: { enabled: false } },
      } as any,
      plugins: [errorBarPlugin, resAxesPlugin],
    });

    return () => {
      main.destroy();
      res.destroy();
    };
  }, []);

  return (
    <div style={{ position: "fixed", left: 0, top: 0, width: 1113, height: 649, background: "#fff" }}>
      <canvas ref={mainRef} width={1113} height={470} style={{ position: "absolute", left: 0, top: 0, width: 1113, height: 470 }} />
      <canvas ref={resRef} width={1113} height={179} style={{ position: "absolute", left: 0, top: 470, width: 1113, height: 179 }} />
    </div>
  );
}
